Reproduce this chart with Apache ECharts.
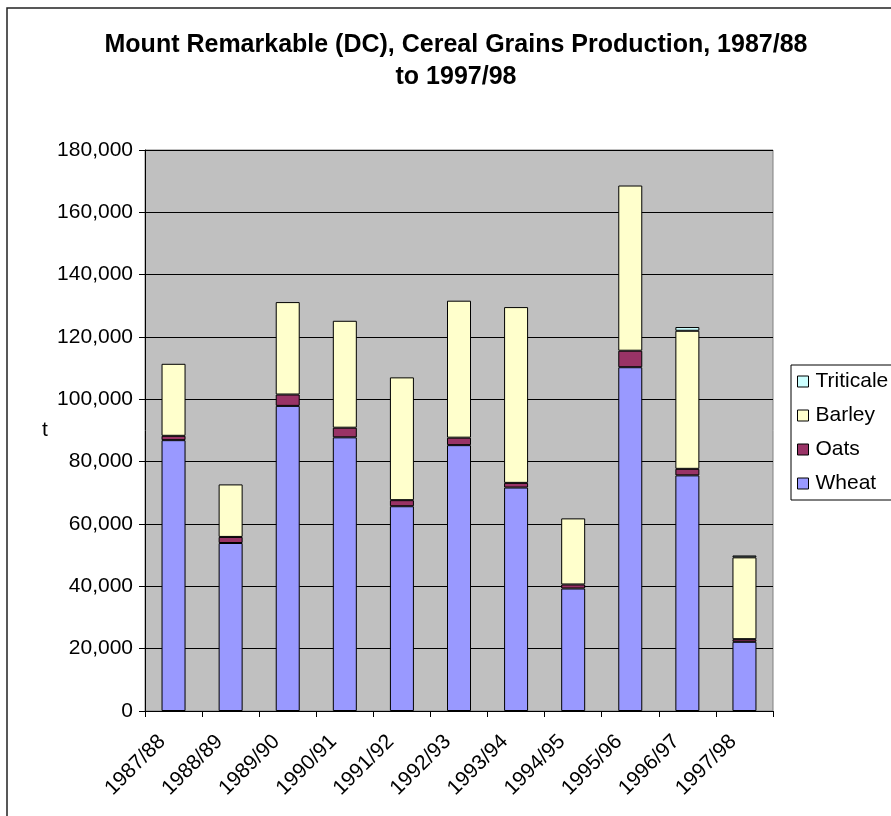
<!DOCTYPE html>
<html>
<head>
<meta charset="utf-8">
<script src="https://cdn.jsdelivr.net/npm/echarts@6/dist/echarts.min.js"></script>
<style>
  html, body { margin: 0; padding: 0; background: #fff; }
  #chart { width: 891px; height: 816px; }
</style>
</head>
<body>
<div id="chart"></div>
<script>
// Cereal grain production by season, tonnes
const seasons = ['1987/88', '1988/89', '1989/90', '1990/91', '1991/92', '1992/93',
                 '1993/94', '1994/95', '1995/96', '1996/97', '1997/98'];
const wheat = [86900, 53900, 97900, 87800, 65700, 85300, 71700, 39300, 110300, 75600, 22200];
const oats = [1400, 1950, 3650, 3100, 1950, 2400, 1500, 1300, 5300, 2100, 850];
const barley = [23100, 16850, 29650, 34300, 39400, 43950, 56400, 21200, 53000, 44300, 26250];
const triticale = [null, null, null, null, null, null, null, null, null, 1200, 600];
const legendOrder = ['Triticale', 'Barley', 'Oats', 'Wheat'];

const FONT = "'Liberation Sans', Arial, sans-serif";

const chart = echarts.init(document.getElementById('chart'), null, { renderer: 'canvas' });

function barSeries(name, data, color) {
  return {
    name: name,
    type: 'bar',
    stack: 'grain',
    data: data,
    barWidth: 24,
    itemStyle: { color: color, borderColor: '#000', borderWidth: 1 },
    emphasis: { disabled: true }
  };
}

chart.setOption({
  animation: false,
  backgroundColor: '#fff',
  title: {
    text: 'Mount Remarkable (DC), Cereal Grains Production, 1987/88\nto 1997/98',
    left: 451,
    textAlign: 'center',
    top: 24,
    textStyle: { fontFamily: FONT, fontSize: 25, fontWeight: 'bold', color: '#000', lineHeight: 32 }
  },
  graphic: [
    {
      type: 'rect',
      shape: { x: 7, y: 8, width: 900, height: 830 },
      style: { fill: null, stroke: '#222', lineWidth: 1.5 },
      silent: true,
      z: 100
    },
    {
      type: 'text',
      left: 42,
      top: 420,
      style: { text: 't', fontFamily: FONT, fontSize: 21, fill: '#000' }
    }
  ],
  legend: {
    data: legendOrder,
    orient: 'vertical',
    left: 791,
    top: 365,
    width: 97,
    padding: [6, 8, 6, 6],
    itemWidth: 11,
    itemHeight: 11,
    itemGap: 13,
    backgroundColor: '#fff',
    borderColor: '#000',
    borderWidth: 1,
    icon: 'rect',
    itemStyle: { borderColor: '#000', borderWidth: 1 },
    textStyle: { fontFamily: FONT, fontSize: 21, color: '#000', padding: [0, 0, 0, 2] },
    selectedMode: false
  },
  grid: {
    left: 145,
    top: 150,
    width: 628,
    height: 561,
    show: true,
    backgroundColor: '#C0C0C0',
    borderColor: '#808080',
    borderWidth: 1
  },
  xAxis: {
    type: 'category',
    data: seasons,
    boundaryGap: true,
    axisLine: { lineStyle: { color: '#000', width: 1 } },
    axisTick: { show: true, alignWithLabel: false, length: 6, lineStyle: { color: '#000' } },
    axisLabel: {
      rotate: 45,
      margin: 16,
      padding: [0, 16, 0, 0],
      fontFamily: FONT,
      fontSize: 21,
      color: '#000',
      interval: 0
    }
  },
  yAxis: {
    type: 'value',
    min: 0,
    max: 180000,
    interval: 20000,
    axisLine: { show: true, lineStyle: { color: '#000', width: 1 } },
    axisTick: { show: true, length: 6, lineStyle: { color: '#000' } },
    axisLabel: {
      margin: 12,
      fontFamily: FONT,
      fontSize: 21,
      color: '#000',
      formatter: function (v) { return v.toLocaleString('en-US'); }
    },
    splitLine: { show: true, lineStyle: { color: '#000', width: 1 } }
  },
  series: [
    barSeries('Wheat', wheat, '#9999FF'),
    barSeries('Oats', oats, '#993366'),
    barSeries('Barley', barley, '#FFFFCC'),
    barSeries('Triticale', triticale, '#CCFFFF')
  ]
});
</script>
</body>
</html>
